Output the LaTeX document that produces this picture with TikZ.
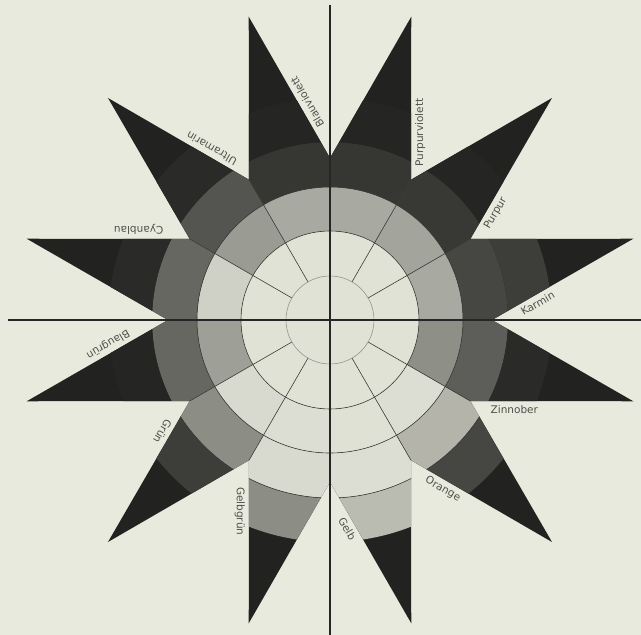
\documentclass[tikz,border=0pt]{standalone}
\usepackage{fontspec}
\setmainfont{DejaVu Sans}
\definecolor{papier}{RGB}{233,234,222}
\definecolor{jasny}{RGB}{224,226,213}
\definecolor{promien}{RGB}{34,34,32}
\definecolor{linia}{RGB}{60,60,56}
\definecolor{napis}{RGB}{80,80,76}
\begin{document}
\begin{tikzpicture}[x=1pt, y=1pt,
        etykieta/.style={font=\fontsize{10.5}{12}\selectfont, text=napis, inner sep=4pt, anchor=north},
        podzial/.style={linia, line width=0.6pt},
        os/.style={black!85, line width=1.3pt}]
                \useasboundingbox (-330,-315) rectangle (311,320);
                \fill[papier] (-330,-315) rectangle (311,320);

                % Gwiazda: 12 promieni, wciecia r=162, wierzcholki r=314
                \begin{scope}
                    \clip (0:162) \foreach \k in {0,...,11} { -- ({30*\k+15}:314) -- ({30*\k+30}:162) } -- cycle;
                    \fill[promien] (-330,-315) rectangle (311,320);

                    % Pierscienie w sektorach (jasnosc w % papieru)
                    \foreach \s/\pc/\pd/\pe in {0/72/30/26, 30/70/24/16, 60/72/23/16, 90/72/23/16,
                                                120/66/36/18, 150/89/44/18, 180/68/44/16, 210/93/60/26,
                                                240/95/93/60, 270/96/95/80, 300/95/77/30, 330/61/40/18} {
                        \foreach \ri/\ro/\p in {89/133/\pc, 133/178/\pd, 178/222/\pe} {
                            \fill[papier!\p!black] (\s:\ri) -- (\s:\ro)
                                arc[start angle=\s, end angle=\s+30, radius=\ro]
                                -- ({\s+30}:\ri)
                                arc[start angle=\s+30, end angle=\s, radius=\ri] -- cycle;
                        }
                    }
                    \fill[jasny] (0,0) circle (89);

                    % Linie podzialu
                    \foreach \a in {30,60,120,150,210,240,300,330}
                        \draw[podzial] (\a:44) -- (\a:162);
                    \draw[podzial, linia!55] (0,0) circle (44);
                    \draw[podzial] (0,0) circle (89) (0,0) circle (133);
                    \draw[podzial] (210:178) arc[start angle=210, end angle=330, radius=178];
                \end{scope}

                % Osie
                \draw[os] (0,315) -- (0,-315);
                \draw[os] (-322,0) -- (311,0);

                % Nazwy barw wzdluz krawedzi promieni
                \foreach \a/\tekst/\d [count=\i] in {0/Karmin/48, -30/Zinnober/44, -60/Orange/42,
                        -90/Gelb/49, -120/Gelbgrün/51, -150/Grün/40, 180/Blaugrün/64,
                        150/Cyanblau/51, 120/Ultramarin/48, 90/Blauviolett/60,
                        60/Purpurviolett/47, 30/Purpur/35} {
                    \pgfmathsetmacro{\x}{162*cos(\a) + \d*cos(\a+30)}
                    \pgfmathsetmacro{\y}{162*sin(\a) + \d*sin(\a+30)}
                    \pgfmathsetmacro{\r}{\a+30}
                    \node[etykieta, rotate=\r] (barwa\i) at (\x,\y) {\tekst};
                }
\end{tikzpicture}
\end{document}
